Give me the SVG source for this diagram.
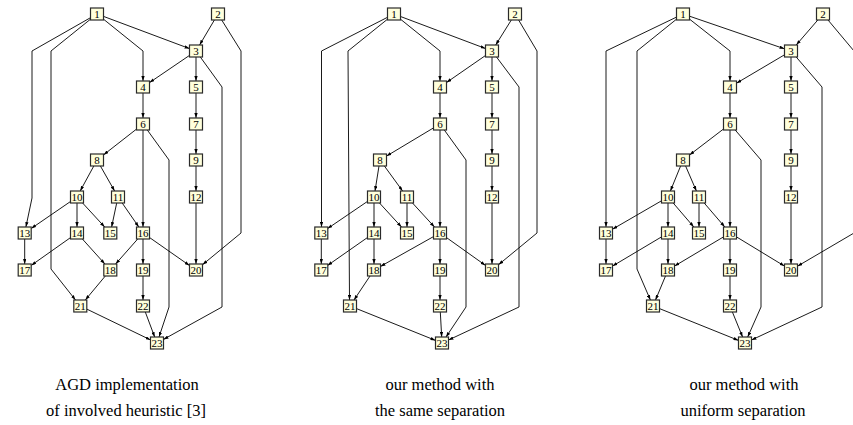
<svg xmlns="http://www.w3.org/2000/svg" width="853" height="425" viewBox="0 0 853 425">
<style>
.e{fill:none;stroke:#000;stroke-width:0.9;marker-end:url(#ah)}
.n text{font-family:"Liberation Serif","Times New Roman",serif;font-size:11px;text-anchor:middle;fill:#000}
.cap{font-family:"Liberation Serif","Times New Roman",serif;font-size:16.5px;text-anchor:middle;fill:#000}
</style>
<defs>
<marker id="ah" viewBox="0 0 6 4" refX="6" refY="2" markerWidth="5" markerHeight="3.4" markerUnits="userSpaceOnUse" orient="auto">
<path d="M0,0 L6,2 L0,4 z" fill="#000"/>
</marker>
<rect id="box" x="-6.5" y="-6" width="13" height="12" fill="#ffffdc" stroke="#2a2a2a" stroke-width="1.2"/>
</defs>

<!-- Panel 1 connectors -->
<g id="p1-edges">
<line class="e" x1="103.5" y1="16.4" x2="189.5" y2="48.6"/>
<polyline class="e" points="103.5,19.2 143,51 143,81"/>
<polyline class="e" points="90.5,17.7 32,51 32,198 25.9,227"/>
<polyline class="e" points="90.5,19.2 51,51 51,269 75.5,300"/>
<line class="e" x1="214.4" y1="20" x2="199.6" y2="45"/>
<polyline class="e" points="221.7,20 241,51 241,233 202.5,264.7"/>
<line class="e" x1="189.5" y1="55.4" x2="149.5" y2="82.6"/>
<line class="e" x1="196" y1="57" x2="196" y2="81"/>
<polyline class="e" points="200.3,57 222,87 222,307 163.5,339.4"/>
<line class="e" x1="143" y1="93" x2="143" y2="118"/>
<line class="e" x1="196" y1="93" x2="196" y2="118"/>
<line class="e" x1="136.5" y1="129.1" x2="103.5" y2="154.9"/>
<line class="e" x1="143" y1="130" x2="143" y2="227"/>
<polyline class="e" points="147.3,130 169,160 169,307 159,337"/>
<line class="e" x1="196" y1="130" x2="196" y2="154"/>
<line class="e" x1="93.8" y1="166" x2="80.2" y2="191"/>
<line class="e" x1="100.4" y1="166" x2="114.6" y2="191"/>
<line class="e" x1="196" y1="166" x2="196" y2="191"/>
<line class="e" x1="70.5" y1="201.5" x2="31.2" y2="228.5"/>
<line class="e" x1="77" y1="203" x2="77" y2="227"/>
<line class="e" x1="82.6" y1="203" x2="104.7" y2="227"/>
<line class="e" x1="116.7" y1="203" x2="111.6" y2="227"/>
<line class="e" x1="122.2" y1="203" x2="138.8" y2="227"/>
<line class="e" x1="196" y1="203" x2="196" y2="264"/>
<line class="e" x1="24.7" y1="239" x2="24.7" y2="264"/>
<line class="e" x1="70.5" y1="237.6" x2="31.2" y2="265.4"/>
<line class="e" x1="82.4" y1="239" x2="104.9" y2="264"/>
<line class="e" x1="137.7" y1="239" x2="115.6" y2="264"/>
<line class="e" x1="143" y1="239" x2="143" y2="264"/>
<line class="e" x1="149.5" y1="237.5" x2="189.5" y2="265.5"/>
<line class="e" x1="105.3" y1="276" x2="85.3" y2="300"/>
<line class="e" x1="143" y1="276" x2="143" y2="300"/>
<line class="e" x1="86.8" y1="309.1" x2="150.5" y2="339.9"/>
<line class="e" x1="145.3" y1="312" x2="154.7" y2="337"/>
</g>

<!-- Panel 1 nodes -->
<g id="p1-n1" class="n" transform="translate(97,14)"><use href="#box"/><text y="3.8">1</text></g>
<g id="p1-n2" class="n" transform="translate(218,14)"><use href="#box"/><text y="3.8">2</text></g>
<g id="p1-n3" class="n" transform="translate(196,51)"><use href="#box"/><text y="3.8">3</text></g>
<g id="p1-n4" class="n" transform="translate(143,87)"><use href="#box"/><text y="3.8">4</text></g>
<g id="p1-n5" class="n" transform="translate(196,87)"><use href="#box"/><text y="3.8">5</text></g>
<g id="p1-n6" class="n" transform="translate(143,124)"><use href="#box"/><text y="3.8">6</text></g>
<g id="p1-n7" class="n" transform="translate(196,124)"><use href="#box"/><text y="3.8">7</text></g>
<g id="p1-n8" class="n" transform="translate(97,160)"><use href="#box"/><text y="3.8">8</text></g>
<g id="p1-n9" class="n" transform="translate(196,160)"><use href="#box"/><text y="3.8">9</text></g>
<g id="p1-n10" class="n" transform="translate(77,197)"><use href="#box"/><text y="3.8">10</text></g>
<g id="p1-n11" class="n" transform="translate(118,197)"><use href="#box"/><text y="3.8">11</text></g>
<g id="p1-n12" class="n" transform="translate(196,197)"><use href="#box"/><text y="3.8">12</text></g>
<g id="p1-n13" class="n" transform="translate(24.7,233)"><use href="#box"/><text y="3.8">13</text></g>
<g id="p1-n14" class="n" transform="translate(77,233)"><use href="#box"/><text y="3.8">14</text></g>
<g id="p1-n15" class="n" transform="translate(110.3,233)"><use href="#box"/><text y="3.8">15</text></g>
<g id="p1-n16" class="n" transform="translate(143,233)"><use href="#box"/><text y="3.8">16</text></g>
<g id="p1-n17" class="n" transform="translate(24.7,270)"><use href="#box"/><text y="3.8">17</text></g>
<g id="p1-n18" class="n" transform="translate(110.3,270)"><use href="#box"/><text y="3.8">18</text></g>
<g id="p1-n19" class="n" transform="translate(143,270)"><use href="#box"/><text y="3.8">19</text></g>
<g id="p1-n20" class="n" transform="translate(196,270)"><use href="#box"/><text y="3.8">20</text></g>
<g id="p1-n21" class="n" transform="translate(80.3,306)"><use href="#box"/><text y="3.8">21</text></g>
<g id="p1-n22" class="n" transform="translate(143,306)"><use href="#box"/><text y="3.8">22</text></g>
<g id="p1-n23" class="n" transform="translate(157,343)"><use href="#box"/><text y="3.8">23</text></g>

<!-- Panel 2 connectors -->
<g id="p2-edges">
<line class="e" x1="400.5" y1="16.5" x2="485.5" y2="48.5"/>
<polyline class="e" points="400.5,19.2 440,51 440,81"/>
<polyline class="e" points="387.5,17.3 321.5,51 321.5,227"/>
<polyline class="e" points="387.5,19.2 348,51 349.5,300"/>
<line class="e" x1="511.3" y1="20" x2="495.7" y2="45"/>
<polyline class="e" points="518.6,20 537,51 537,233 498.5,264.7"/>
<line class="e" x1="485.5" y1="55.5" x2="446.5" y2="82.5"/>
<line class="e" x1="492" y1="57" x2="492" y2="81"/>
<polyline class="e" points="496.5,57 519,87 519,307 448.5,340"/>
<line class="e" x1="440" y1="93" x2="440" y2="118"/>
<line class="e" x1="492" y1="93" x2="492" y2="118"/>
<line class="e" x1="433.5" y1="127.9" x2="386.5" y2="156.1"/>
<line class="e" x1="440" y1="130" x2="440" y2="227"/>
<polyline class="e" points="444.3,130 466,160 466,307 446,337"/>
<line class="e" x1="492" y1="130" x2="492" y2="154"/>
<line class="e" x1="379" y1="166" x2="375" y2="191"/>
<line class="e" x1="384.4" y1="166" x2="402.6" y2="191"/>
<line class="e" x1="492" y1="166" x2="492" y2="191"/>
<line class="e" x1="367.5" y1="201.4" x2="327.5" y2="228.6"/>
<line class="e" x1="374" y1="203" x2="374" y2="227"/>
<line class="e" x1="379.5" y1="203" x2="401.5" y2="227"/>
<line class="e" x1="407" y1="203" x2="407" y2="227"/>
<line class="e" x1="412.5" y1="203" x2="434.5" y2="227"/>
<line class="e" x1="492" y1="203" x2="492" y2="264"/>
<line class="e" x1="321.3" y1="239" x2="321.3" y2="264"/>
<line class="e" x1="367.5" y1="237.5" x2="327.5" y2="265.5"/>
<line class="e" x1="374" y1="239" x2="374" y2="264"/>
<line class="e" x1="433.5" y1="236.6" x2="380.5" y2="266.4"/>
<line class="e" x1="440" y1="239" x2="440" y2="264"/>
<line class="e" x1="446.5" y1="237.6" x2="485.5" y2="265.4"/>
<line class="e" x1="370" y1="276" x2="354" y2="300"/>
<line class="e" x1="440" y1="276" x2="440" y2="300"/>
<line class="e" x1="356.5" y1="308.6" x2="435.5" y2="340.4"/>
<line class="e" x1="440.3" y1="312" x2="441.7" y2="337"/>
</g>

<!-- Panel 2 nodes -->
<g id="p2-n1" class="n" transform="translate(394,14)"><use href="#box"/><text y="3.8">1</text></g>
<g id="p2-n2" class="n" transform="translate(515,14)"><use href="#box"/><text y="3.8">2</text></g>
<g id="p2-n3" class="n" transform="translate(492,51)"><use href="#box"/><text y="3.8">3</text></g>
<g id="p2-n4" class="n" transform="translate(440,87)"><use href="#box"/><text y="3.8">4</text></g>
<g id="p2-n5" class="n" transform="translate(492,87)"><use href="#box"/><text y="3.8">5</text></g>
<g id="p2-n6" class="n" transform="translate(440,124)"><use href="#box"/><text y="3.8">6</text></g>
<g id="p2-n7" class="n" transform="translate(492,124)"><use href="#box"/><text y="3.8">7</text></g>
<g id="p2-n8" class="n" transform="translate(380,160)"><use href="#box"/><text y="3.8">8</text></g>
<g id="p2-n9" class="n" transform="translate(492,160)"><use href="#box"/><text y="3.8">9</text></g>
<g id="p2-n10" class="n" transform="translate(374,197)"><use href="#box"/><text y="3.8">10</text></g>
<g id="p2-n11" class="n" transform="translate(407,197)"><use href="#box"/><text y="3.8">11</text></g>
<g id="p2-n12" class="n" transform="translate(492,197)"><use href="#box"/><text y="3.8">12</text></g>
<g id="p2-n13" class="n" transform="translate(321.3,233)"><use href="#box"/><text y="3.8">13</text></g>
<g id="p2-n14" class="n" transform="translate(374,233)"><use href="#box"/><text y="3.8">14</text></g>
<g id="p2-n15" class="n" transform="translate(407,233)"><use href="#box"/><text y="3.8">15</text></g>
<g id="p2-n16" class="n" transform="translate(440,233)"><use href="#box"/><text y="3.8">16</text></g>
<g id="p2-n17" class="n" transform="translate(321.3,270)"><use href="#box"/><text y="3.8">17</text></g>
<g id="p2-n18" class="n" transform="translate(374,270)"><use href="#box"/><text y="3.8">18</text></g>
<g id="p2-n19" class="n" transform="translate(440,270)"><use href="#box"/><text y="3.8">19</text></g>
<g id="p2-n20" class="n" transform="translate(492,270)"><use href="#box"/><text y="3.8">20</text></g>
<g id="p2-n21" class="n" transform="translate(350,306)"><use href="#box"/><text y="3.8">21</text></g>
<g id="p2-n22" class="n" transform="translate(440,306)"><use href="#box"/><text y="3.8">22</text></g>
<g id="p2-n23" class="n" transform="translate(442,343)"><use href="#box"/><text y="3.8">23</text></g>

<!-- Panel 3 connectors -->
<g id="p3-edges">
<line class="e" x1="689.5" y1="16.2" x2="784.5" y2="48.8"/>
<polyline class="e" points="689.5,19.1 730,51 730,81"/>
<polyline class="e" points="676.5,17.1 606,51 606,227"/>
<polyline class="e" points="676.5,19.2 637,51 637,269 650.4,300"/>
<line class="e" x1="817.8" y1="20" x2="796.2" y2="45"/>
<polyline class="e" points="828,20 854,51 854,233 797.5,266.2"/>
<line class="e" x1="784.5" y1="54.8" x2="736.5" y2="83.2"/>
<line class="e" x1="791" y1="57" x2="791" y2="81"/>
<polyline class="e" points="796.2,57 822,87 822,307 751.5,340"/>
<line class="e" x1="730" y1="93" x2="730" y2="118"/>
<line class="e" x1="791" y1="93" x2="791" y2="118"/>
<line class="e" x1="723.5" y1="129" x2="689.5" y2="155"/>
<line class="e" x1="730" y1="130" x2="730" y2="227"/>
<polyline class="e" points="735.2,130 761,160 761,307 747.7,337"/>
<line class="e" x1="791" y1="130" x2="791" y2="154"/>
<line class="e" x1="680.6" y1="166" x2="670.4" y2="191"/>
<line class="e" x1="685.6" y1="166" x2="696.4" y2="191"/>
<line class="e" x1="791" y1="166" x2="791" y2="191"/>
<line class="e" x1="661.5" y1="200.8" x2="612.5" y2="229.2"/>
<line class="e" x1="668" y1="203" x2="668" y2="227"/>
<line class="e" x1="673.2" y1="203" x2="693.8" y2="227"/>
<line class="e" x1="699" y1="203" x2="699" y2="227"/>
<line class="e" x1="704.2" y1="203" x2="724.8" y2="227"/>
<line class="e" x1="791" y1="203" x2="791" y2="264"/>
<line class="e" x1="606" y1="239" x2="606" y2="264"/>
<line class="e" x1="661.5" y1="236.9" x2="612.5" y2="266.1"/>
<line class="e" x1="668" y1="239" x2="668" y2="264"/>
<line class="e" x1="723.5" y1="236.9" x2="674.5" y2="266.1"/>
<line class="e" x1="730" y1="239" x2="730" y2="264"/>
<line class="e" x1="736.5" y1="236.9" x2="784.5" y2="266.1"/>
<line class="e" x1="665.5" y1="276" x2="655.5" y2="300"/>
<line class="e" x1="730" y1="276" x2="730" y2="300"/>
<line class="e" x1="659.5" y1="308.6" x2="738.5" y2="340.4"/>
<line class="e" x1="732.4" y1="312" x2="742.6" y2="337"/>
</g>

<!-- Panel 3 nodes -->
<g id="p3-n1" class="n" transform="translate(683,14)"><use href="#box"/><text y="3.8">1</text></g>
<g id="p3-n2" class="n" transform="translate(823,14)"><use href="#box"/><text y="3.8">2</text></g>
<g id="p3-n3" class="n" transform="translate(791,51)"><use href="#box"/><text y="3.8">3</text></g>
<g id="p3-n4" class="n" transform="translate(730,87)"><use href="#box"/><text y="3.8">4</text></g>
<g id="p3-n5" class="n" transform="translate(791,87)"><use href="#box"/><text y="3.8">5</text></g>
<g id="p3-n6" class="n" transform="translate(730,124)"><use href="#box"/><text y="3.8">6</text></g>
<g id="p3-n7" class="n" transform="translate(791,124)"><use href="#box"/><text y="3.8">7</text></g>
<g id="p3-n8" class="n" transform="translate(683,160)"><use href="#box"/><text y="3.8">8</text></g>
<g id="p3-n9" class="n" transform="translate(791,160)"><use href="#box"/><text y="3.8">9</text></g>
<g id="p3-n10" class="n" transform="translate(668,197)"><use href="#box"/><text y="3.8">10</text></g>
<g id="p3-n11" class="n" transform="translate(699,197)"><use href="#box"/><text y="3.8">11</text></g>
<g id="p3-n12" class="n" transform="translate(791,197)"><use href="#box"/><text y="3.8">12</text></g>
<g id="p3-n13" class="n" transform="translate(606,233)"><use href="#box"/><text y="3.8">13</text></g>
<g id="p3-n14" class="n" transform="translate(668,233)"><use href="#box"/><text y="3.8">14</text></g>
<g id="p3-n15" class="n" transform="translate(699,233)"><use href="#box"/><text y="3.8">15</text></g>
<g id="p3-n16" class="n" transform="translate(730,233)"><use href="#box"/><text y="3.8">16</text></g>
<g id="p3-n17" class="n" transform="translate(606,270)"><use href="#box"/><text y="3.8">17</text></g>
<g id="p3-n18" class="n" transform="translate(668,270)"><use href="#box"/><text y="3.8">18</text></g>
<g id="p3-n19" class="n" transform="translate(730,270)"><use href="#box"/><text y="3.8">19</text></g>
<g id="p3-n20" class="n" transform="translate(791,270)"><use href="#box"/><text y="3.8">20</text></g>
<g id="p3-n21" class="n" transform="translate(653,306)"><use href="#box"/><text y="3.8">21</text></g>
<g id="p3-n22" class="n" transform="translate(730,306)"><use href="#box"/><text y="3.8">22</text></g>
<g id="p3-n23" class="n" transform="translate(745,343)"><use href="#box"/><text y="3.8">23</text></g>

<!-- Captions -->
<g id="captions">
<text class="cap" x="127" y="390">AGD implementation</text>
<text class="cap" x="126" y="416">of involved heuristic [3]</text>
<text class="cap" x="440" y="390">our method with</text>
<text class="cap" x="440" y="416">the same separation</text>
<text class="cap" x="744" y="390">our method with</text>
<text class="cap" x="743" y="416">uniform separation</text>
</g>
</svg>
